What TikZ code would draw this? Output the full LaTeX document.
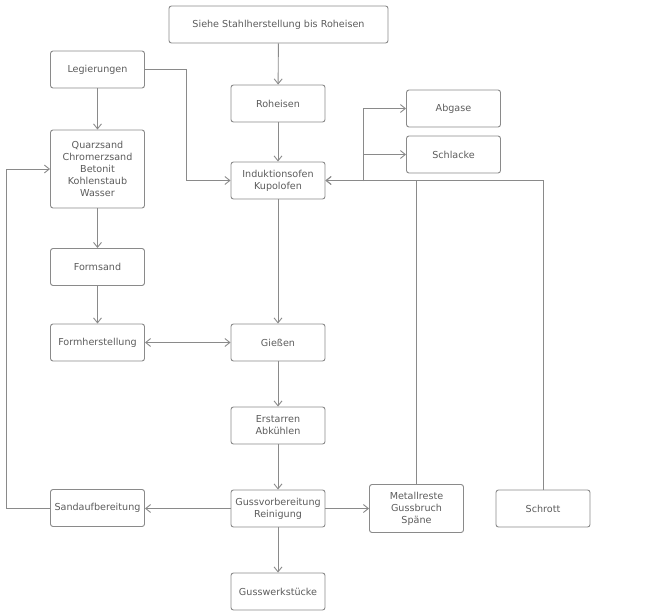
\documentclass[tikz,border=0pt]{standalone}
\usepackage{fontspec}
\setmainfont{DejaVu Sans}
\usetikzlibrary{arrows.meta}
\definecolor{lc}{HTML}{8A8A8A}
\definecolor{tc}{HTML}{5C5C5C}
\tikzset{
  box/.style={draw=lc, line width=0.9pt, rounded corners=2.5pt, fill=white,
    minimum width=94pt, minimum height=37pt, inner sep=1pt, align=center,
    text=tc, font=\fontsize{9.6}{12}\selectfont},
  conn/.style={draw=lc, line width=0.9pt},
  arr/.style={conn, -{Straight Barb[length=5pt,width=8pt]}},
}
\begin{document}
\begin{tikzpicture}[x=1pt,y=-1pt]
\useasboundingbox (0,0) rectangle (660,615);
\node[box, minimum width=219pt] (siehe) at (278.5,24.5) {Siehe Stahlherstellung bis Roheisen};
\node[box] (leg) at (97.5,69.5) {Legierungen};
\node[box] (roh) at (278,103.5) {Roheisen};
\node[box] (abg) at (453.5,108.5) {Abgase};
\node[box] (schl) at (453.5,154.5) {Schlacke};
\node[box, minimum height=78pt] (quarz) at (97.5,169) {Quarzsand\\Chromerzsand\\Betonit\\Kohlenstaub\\Wasser};
\node[box] (ind) at (278,180.5) {Induktionsofen\\Kupolofen};
\node[box] (forms) at (97.5,267) {Formsand};
\node[box] (formh) at (97.5,342.5) {Formherstellung};
\node[box] (giess) at (278,342.5) {Gießen};
\node[box] (erst) at (278,425.5) {Erstarren\\Abkühlen};
\node[box] (guss) at (278,508.5) {Gussvorbereitung\\Reinigung};
\node[box] (sand) at (97.5,508) {Sandaufbereitung};
\node[box, minimum height=48pt] (metall) at (416.5,508.5) {Metallreste\\Gussbruch\\Späne};
\node[box] (schrott) at (543,508.5) {Schrott};
\node[box] (werk) at (278,591.5) {Gusswerkstücke};

\coordinate (legc) at (186,69.5);
\coordinate (sandc) at (6,508);
\coordinate (branch) at (363,181);

\draw[arr] (siehe) -- (roh);
\draw[arr] (roh) -- (ind);
\draw[arr] (leg.east) -- (legc) |- (ind.west);
\draw[arr] (leg) -- (quarz);
\draw[arr] (quarz) -- (forms);
\draw[arr] (forms) -- (formh);
\draw[arr] (ind) -- (giess);
\draw[conn, {Straight Barb[length=5pt,width=8pt]}-{Straight Barb[length=5pt,width=8pt]}] (formh) -- (giess);
\draw[arr] (giess) -- (erst);
\draw[arr] (erst) -- (guss);
\draw[arr] (guss) -- (werk);
\draw[arr] (guss.west) -- (sand.east |- guss.west);
\draw[arr] (guss) -- (metall);
\draw[arr] (sand.west) -- (sandc) |- (quarz.west);
\draw[arr] (metall.north) |- (ind.east);
\draw[arr] (schrott.north) |- (ind.east);
\draw[arr] (branch) |- (abg.west);
\draw[arr] (branch) |- (schl.west);
\end{tikzpicture}
\end{document}
